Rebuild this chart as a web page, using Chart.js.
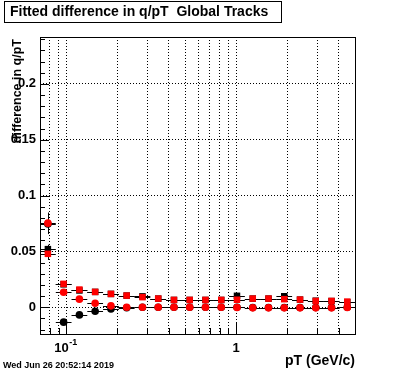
<!DOCTYPE html>
<html><head><meta charset="utf-8">
<script src="https://cdn.jsdelivr.net/npm/chart.js@4/dist/chart.umd.min.js"></script>
<style>html,body{margin:0;padding:0;background:#fff}#wrap{width:396px;height:372px;position:relative}</style>
</head><body><div id="wrap"><canvas id="c" width="396" height="372"></canvas></div>
<script>
const titleText = 'Fitted difference in q/pT  Global Tracks';
const xTitle = 'pT (GeV/c)';
const yTitle = 'difference in q/pT';
const dateStamp = 'Wed Jun 26 20:52:14 2019';

// bin centres and edges (pT, GeV/c)
const pT = [0.0779, 0.0964, 0.1194, 0.1478, 0.1831, 0.2266, 0.2806, 0.3474, 0.4301, 0.5324,
            0.6591, 0.816, 1.0103, 1.2508, 1.5485, 1.9171, 2.3734, 2.9383, 3.6377, 4.503];
const binEdges = [0.070, 0.0867, 0.1073, 0.1329, 0.1645, 0.2037, 0.2522, 0.3122, 0.3865, 0.4785, 0.5924,
                  0.7334, 0.9080, 1.124, 1.392, 1.723, 2.133, 2.641, 3.270, 4.048, 5.012];

const blackSquare = [0.052, 0.0205, 0.015, 0.0137, 0.0119, 0.0104, 0.0097, 0.0077, 0.0065, 0.0065,
                     0.0065, 0.0065, 0.0102, 0.0077, 0.0077, 0.0098, 0.0068, 0.0058, 0.0055, 0.0045];
const blackSquareErr = [0.004, 0.0008, 0.0008, 0.0008, 0.0008, 0.0008, 0.0008, 0.0008, 0.0008, 0.0008,
                        0.0008, 0.0008, 0.0008, 0.0008, 0.0008, 0.0008, 0.0008, 0.0008, 0.0008, 0.0008];
const blackCircle = [0.0745, -0.0134, -0.0069, -0.0036, -0.0015, -0.0005, 0.0, 0.0, 0.0, 0.0,
                     0.0, 0.0, 0.0, -0.0003, -0.0003, -0.0003, -0.0003, -0.0003, -0.0003, 0.0];
const blackCircleErr = [0.009, 0.0008, 0.0008, 0.0008, 0.0008, 0.0008, 0.0008, 0.0008, 0.0008, 0.0008,
                        0.0008, 0.0008, 0.0008, 0.0008, 0.0008, 0.0008, 0.0008, 0.0008, 0.0008, 0.0008];
const redSquare = [0.0478, 0.0209, 0.0158, 0.0137, 0.0119, 0.0104, 0.009, 0.0077, 0.0065, 0.0065,
                   0.0065, 0.0065, 0.0067, 0.0077, 0.0077, 0.0072, 0.0068, 0.0056, 0.0056, 0.005];
const redSquareErr = [0.0055, 0.0008, 0.0008, 0.0008, 0.0008, 0.0008, 0.0008, 0.0008, 0.0008, 0.0008,
                      0.0008, 0.0008, 0.0008, 0.0008, 0.0008, 0.0008, 0.0008, 0.0008, 0.0008, 0.0008];
const redCircle = [0.0753, 0.0134, 0.0072, 0.0036, 0.0012, 0.0, 0.0, 0.0, 0.0, 0.0,
                   0.0, 0.0, -0.0002, -0.0006, -0.0006, -0.0006, -0.0006, -0.0006, -0.0006, -0.0002];
const redCircleErr = [0.0095, 0.0008, 0.0008, 0.0008, 0.0008, 0.0008, 0.0008, 0.0008, 0.0008, 0.0008,
                      0.0008, 0.0008, 0.0008, 0.0008, 0.0008, 0.0008, 0.0008, 0.0008, 0.0008, 0.0008];

const xMin = 0.07, xMax = 5.0;
const yMin = -0.024, yMax = 0.242;
const xGridTicks = [0.08, 0.09, 0.1, 0.2, 0.3, 0.4, 0.5, 0.6, 0.7, 0.8, 0.9, 1, 2, 3, 4];
const xMajorTicks = [0.1, 1];
const xTickLabels = ['10', '1'];
const xTickExponents = ['-1', ''];
const yMinorTicks = [-0.02, -0.01, 0, 0.01, 0.02, 0.03, 0.04, 0.05, 0.06, 0.07, 0.08, 0.09, 0.1, 0.11, 0.12,
                     0.13, 0.14, 0.15, 0.16, 0.17, 0.18, 0.19, 0.2, 0.21, 0.22, 0.23, 0.24];
const yMajorTicks = [0, 0.05, 0.1, 0.15, 0.2];
const yTickLabels = ['0', '0.05', '0.1', '0.15', '0.2'];

const FONT = "'Liberation Sans', Arial, Helvetica, sans-serif";
const near = (a, b) => Math.abs(a - b) < 1e-9;
const idxIn = (arr, v) => arr.findIndex(t => near(t, v));

function pts(ys) { return pT.map((x, i) => ({x: x, y: ys[i]})); }

const errorBars = {
  id: 'errorBars',
  beforeDatasetDraw(chart, args) {
    const ds = chart.data.datasets[args.index];
    if (!ds.yErr) return;
    const xs = chart.scales.x, ys = chart.scales.y, ctx = chart.ctx, a = chart.chartArea;
    ctx.save();
    ctx.beginPath(); ctx.rect(a.left, a.top, a.right - a.left, a.bottom - a.top); ctx.clip();
    ctx.strokeStyle = '#000'; ctx.lineWidth = 1;
    ds.data.forEach((p, i) => {
      const px = Math.round(xs.getPixelForValue(p.x)) + 0.5;
      const py = Math.round(ys.getPixelForValue(p.y)) + 0.5;
      const xl = xs.getPixelForValue(binEdges[i]), xh = xs.getPixelForValue(binEdges[i + 1]);
      const yl = ys.getPixelForValue(p.y - ds.yErr[i]), yh = ys.getPixelForValue(p.y + ds.yErr[i]);
      ctx.beginPath();
      ctx.moveTo(xl, py); ctx.lineTo(xh, py);
      ctx.moveTo(px, yl); ctx.lineTo(px, yh);
      ctx.stroke();
    });
    ctx.restore();
  }
};

const frameAndText = {
  id: 'frameAndText',
  beforeDatasetsDraw(chart) {
    const ctx = chart.ctx, a = chart.chartArea, xs = chart.scales.x, ys = chart.scales.y;
    ctx.save();
    ctx.strokeStyle = '#000'; ctx.lineWidth = 1;
    ctx.strokeRect(Math.round(a.left) + 0.5, Math.round(a.top) + 0.5,
                   Math.round(a.right - a.left), Math.round(a.bottom - a.top));
    ctx.beginPath();
    yMinorTicks.forEach(v => {
      const y = Math.round(ys.getPixelForValue(v)) + 0.5;
      const len = idxIn(yMajorTicks, v) >= 0 ? 9 : 5;
      ctx.moveTo(a.left, y); ctx.lineTo(a.left + len, y);
    });
    xGridTicks.forEach(v => {
      const x = Math.round(xs.getPixelForValue(v)) + 0.5;
      const len = idxIn(xMajorTicks, v) >= 0 ? 11 : 6;
      ctx.moveTo(x, a.bottom); ctx.lineTo(x, a.bottom - len);
    });
    ctx.stroke();
    ctx.restore();
  },
  afterDraw(chart) {
    const ctx = chart.ctx, a = chart.chartArea, xs = chart.scales.x;
    ctx.save();
    ctx.fillStyle = '#000'; ctx.strokeStyle = '#000'; ctx.lineWidth = 1;
    // x tick labels with exponents (ROOT style 10^-1)
    xMajorTicks.forEach((v, i) => {
      const px = xs.getPixelForValue(v);
      const exp = xTickExponents[i];
      ctx.font = 'bold 13px ' + FONT;
      ctx.textBaseline = 'middle';
      if (exp) {
        ctx.textAlign = 'right';
        ctx.fillText(xTickLabels[i], px + 2.5, 348.5);
        ctx.font = 'bold 9px ' + FONT;
        ctx.textAlign = 'left';
        ctx.fillText(exp, px + 3, 342.5);
      } else {
        ctx.textAlign = 'center';
        ctx.fillText(xTickLabels[i], px, 348.5);
      }
    });
    // title box
    ctx.strokeRect(4.5, 1.5, 277, 21);
    ctx.font = 'bold 14px ' + FONT;
    ctx.textAlign = 'left'; ctx.textBaseline = 'middle';
    ctx.fillText(titleText, 10, 12.5);
    // x title
    ctx.font = 'bold 14px ' + FONT;
    ctx.textAlign = 'right'; ctx.textBaseline = 'alphabetic';
    ctx.fillText(xTitle, a.right, 365);
    // y title
    ctx.save();
    ctx.translate(18, 39);
    ctx.rotate(-Math.PI / 2);
    ctx.font = 'bold 12.5px ' + FONT;
    ctx.textAlign = 'right'; ctx.textBaseline = 'middle';
    ctx.fillText(yTitle, 0, 0);
    ctx.restore();
    // date stamp
    ctx.font = 'bold 9px ' + FONT;
    ctx.textAlign = 'left'; ctx.textBaseline = 'alphabetic';
    ctx.fillText(dateStamp, 3, 368);
    ctx.restore();
  }
};

function series(label, ys, errs, color, shape, radius) {
  return {
    label: label, data: pts(ys), yErr: errs,
    backgroundColor: color, borderColor: color,
    pointStyle: shape, pointRadius: radius, pointHoverRadius: radius,
    pointBorderWidth: 0, showLine: false
  };
}

new Chart(document.getElementById('c'), {
  type: 'scatter',
  data: {
    datasets: [
      series('red circle', redCircle, redCircleErr, '#ff0000', 'circle', 3.8),
      series('red square', redSquare, redSquareErr, '#ff0000', 'rect', 4.6),
      series('black square', blackSquare, blackSquareErr, '#000000', 'rect', 4.6),
      series('black circle', blackCircle, blackCircleErr, '#000000', 'circle', 3.8)
    ]
  },
  options: {
    responsive: false, animation: false, devicePixelRatio: 1,
    layout: {padding: {top: 37, right: 41, left: 0, bottom: 0}},
    plugins: {legend: {display: false}, tooltip: {enabled: false}, title: {display: false}},
    events: [],
    scales: {
      x: {
        type: 'logarithmic', min: xMin, max: xMax, position: 'bottom',
        afterBuildTicks: s => { s.ticks = xGridTicks.map(v => ({value: v})); },
        afterFit: s => { s.height = 38; },
        grid: {drawTicks: false, color: '#000', lineWidth: 1},
        border: {display: false, dash: [1, 2]},
        ticks: {display: false, autoSkip: false, maxRotation: 0, minRotation: 0}
      },
      y: {
        type: 'linear', min: yMin, max: yMax,
        afterBuildTicks: s => { s.ticks = yMinorTicks.map(v => ({value: v})); },
        afterFit: s => { s.width = 40; },
        grid: {
          drawTicks: false, lineWidth: 1,
          color: c => (c.tick && idxIn(yMajorTicks, c.tick.value) >= 0) ? '#000' : 'rgba(0,0,0,0)'
        },
        border: {display: false, dash: [1, 2]},
        ticks: {
          autoSkip: false, padding: 4, color: '#000',
          font: {family: FONT, size: 13, weight: 'bold'},
          callback: v => { const i = idxIn(yMajorTicks, v); return i >= 0 ? yTickLabels[i] : ''; }
        }
      }
    }
  },
  plugins: [errorBars, frameAndText]
});
</script>
</body></html>
